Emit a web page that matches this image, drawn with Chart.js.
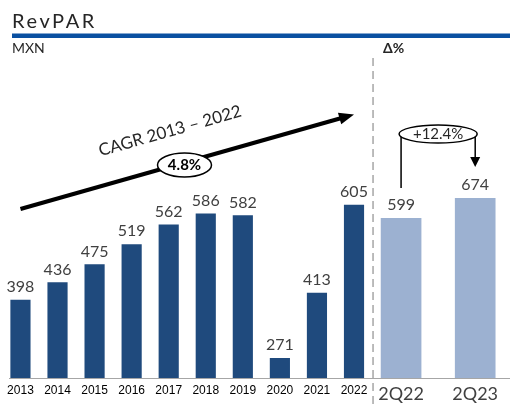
<!DOCTYPE html>
<html>
<head>
<meta charset="utf-8">
<script src="https://cdn.jsdelivr.net/npm/chart.js@4"></script>
<style>
  html, body { margin: 0; padding: 0; background: #fff; overflow: hidden; }
  #wrap { width: 510px; height: 405px; position: relative; overflow: hidden; }
</style>
</head>
<body>
<div id="wrap"><canvas id="myChart"></canvas></div>
<script>
const years = ['2013', '2014', '2015', '2016', '2017', '2018', '2019', '2020', '2021', '2022'];
const yearValues = [398, 436, 475, 519, 562, 586, 582, 271, 413, 605];
const quarters = ['2Q22', '2Q23'];
const quarterValues = [599, 674];
const cagrText = 'CAGR 2013 – 2022';
const cagrValue = '4.8%';
const changeText = '+12.4%';

// quarters sit a bit further out on the x axis, two slots apart
const quarterStart = 10.27;
const quarterPos = quarters.map((q, i) => quarterStart + i * 2);
const tickPos = years.map((y, i) => i).concat(quarterPos);
const tickLabels = years.concat(quarters);

const darkBlue = '#1f4a7d';
const lightBlue = '#9cb1d1';
const textColor = '#404040';
const gothic = 'Lato';

const decorations = {
  id: 'decorations',
  afterDatasetsDraw(chart) {
    const ctx = chart.ctx;
    ctx.save();
    ctx.fillStyle = textColor;
    ctx.textAlign = 'center';
    ctx.textBaseline = 'alphabetic';
    ctx.font = '16px ' + gothic;
    chart.data.datasets.forEach((ds, di) => {
      chart.getDatasetMeta(di).data.forEach((bar, i) => {
        ctx.fillText(String(ds.data[i].y), bar.x, bar.y - 8);
      });
    });
    ctx.restore();
  },
  afterDraw(chart) {
    const ctx = chart.ctx;
    const xs = chart.scales.x;
    ctx.save();

    // title and rule
    ctx.fillStyle = '#262626';
    ctx.font = '20px ' + gothic;
    ctx.letterSpacing = '2.6px';
    ctx.textAlign = 'left';
    ctx.fillText('RevPAR', 12, 28);
    ctx.letterSpacing = '0px';
    ctx.fillStyle = '#0a50a1';
    ctx.fillRect(12, 33.5, 498, 4.5);
    ctx.fillStyle = '#262626';
    ctx.font = '14px ' + gothic;
    ctx.fillText('MXN', 12, 53);
    ctx.font = 'bold 14px ' + gothic;
    ctx.fillText('Δ%', 383, 53);

    // dashed separator
    const sepX = (xs.getPixelForValue(9) + xs.getPixelForValue(quarterPos[0])) / 2 - 4.5;
    ctx.strokeStyle = '#a6a6a6';
    ctx.lineWidth = 1.5;
    ctx.setLineDash([8, 5]);
    ctx.beginPath();
    ctx.moveTo(sepX, 58);
    ctx.lineTo(sepX, 405);
    ctx.stroke();
    ctx.setLineDash([]);

    // CAGR arrow
    const x0 = xs.getPixelForValue(0), y0 = 209;
    const x1 = xs.getPixelForValue(9), y1 = 114.5;
    const ang = Math.atan2(y1 - y0, x1 - x0);
    ctx.strokeStyle = '#000';
    ctx.fillStyle = '#000';
    ctx.lineWidth = 4;
    ctx.beginPath();
    ctx.moveTo(x0, y0);
    ctx.lineTo(x1 - 12 * Math.cos(ang), y1 - 12 * Math.sin(ang));
    ctx.stroke();
    ctx.beginPath();
    ctx.moveTo(x1, y1);
    ctx.lineTo(x1 - 15 * Math.cos(ang) + 6 * Math.sin(ang), y1 - 15 * Math.sin(ang) - 6 * Math.cos(ang));
    ctx.lineTo(x1 - 15 * Math.cos(ang) - 6 * Math.sin(ang), y1 - 15 * Math.sin(ang) + 6 * Math.cos(ang));
    ctx.closePath();
    ctx.fill();

    ctx.save();
    ctx.translate(170, 131);
    ctx.rotate(ang);
    ctx.fillStyle = '#262626';
    ctx.font = '17px ' + gothic;
    ctx.textAlign = 'center';
    ctx.textBaseline = 'middle';
    ctx.fillText(cagrText, 0, 0);
    ctx.restore();

    ctx.beginPath();
    ctx.ellipse(184.5, 165, 27, 12, 0, 0, Math.PI * 2);
    ctx.fillStyle = '#fff';
    ctx.fill();
    ctx.lineWidth = 1.5;
    ctx.strokeStyle = '#000';
    ctx.stroke();
    ctx.fillStyle = '#000';
    ctx.font = 'bold 15px ' + gothic;
    ctx.textAlign = 'center';
    ctx.textBaseline = 'middle';
    ctx.fillText(cagrValue, 184.5, 165.5);

    // change annotation between quarters
    const qa = xs.getPixelForValue(quarterPos[0]);
    const qb = xs.getPixelForValue(quarterPos[1]);
    const cx = (qa + qb) / 2;
    ctx.strokeStyle = '#000';
    ctx.lineWidth = 1.5;
    ctx.beginPath();
    ctx.moveTo(qa, 188);
    ctx.lineTo(qa, 134);
    ctx.moveTo(qb, 134);
    ctx.lineTo(qb, 158);
    ctx.stroke();
    ctx.beginPath();
    ctx.moveTo(qb - 5, 157);
    ctx.lineTo(qb + 5, 157);
    ctx.lineTo(qb, 167);
    ctx.closePath();
    ctx.fill();
    ctx.beginPath();
    ctx.ellipse(cx, 134, (qb - qa) / 2 + 2, 9, 0, 0, Math.PI * 2);
    ctx.fillStyle = '#fff';
    ctx.fill();
    ctx.stroke();
    ctx.fillStyle = '#262626';
    ctx.font = '15px ' + gothic;
    ctx.fillText(changeText, cx, 134.5);

    ctx.restore();
  }
};

const ctx = document.getElementById('myChart').getContext('2d');

const config = {
  type: 'bar',
  data: {
    datasets: [{
      label: 'Anual',
      data: years.map((y, i) => ({ x: i, y: yearValues[i] })),
      backgroundColor: darkBlue,
      barThickness: 19.5,
      grouped: false,
      yAxisID: 'y'
    }, {
      label: 'Trimestral',
      data: quarters.map((q, i) => ({ x: quarterPos[i], y: quarterValues[i] })),
      backgroundColor: lightBlue,
      barThickness: 40,
      grouped: false,
      yAxisID: 'y2'
    }]
  },
  options: {
    responsive: false,
    animation: false,
    layout: { padding: { left: 5, right: 0, top: 60, bottom: 0 } },
    plugins: {
      legend: { display: false },
      tooltip: { enabled: false }
    },
    scales: {
      x: {
        type: 'linear',
        offset: false,
        min: -0.294,
        max: 13.209,
        afterBuildTicks: (scale) => {
          scale.ticks = tickPos.map(v => ({ value: v }));
        },
        grid: { display: false, drawTicks: false },
        border: { display: true, color: '#a6a6a6', width: 1 },
        ticks: {
          autoSkip: false,
          maxRotation: 0,
          padding: 7,
          color: (c) => c.index >= years.length ? '#404040' : '#000',
          font: (c) => c.index >= years.length
            ? { family: gothic, size: 18, lineHeight: 1 }
            : { family: 'Liberation Sans', size: 12, lineHeight: 1 },
          callback: (v, i) => tickLabels[i]
        }
      },
      y: {
        display: false,
        min: 228,
        max: 921
      },
      y2: {
        display: false,
        min: 0,
        max: 1193
      }
    }
  },
  plugins: [decorations]
};

// canvas runs a few px below the window so the tick labels sit lower
const canvas = document.getElementById('myChart');
canvas.width = 510;
canvas.height = 410;
new Chart(ctx, config);
</script>
</body>
</html>
